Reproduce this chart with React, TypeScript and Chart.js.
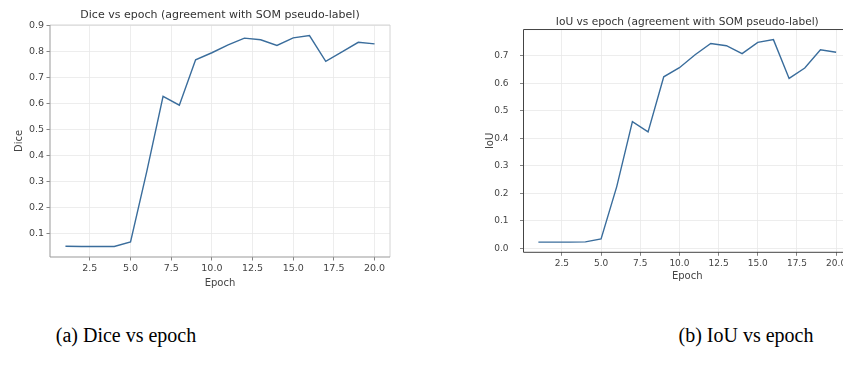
import React, { useEffect, useRef } from "react";
import { Chart, registerables } from "chart.js";

Chart.register(...registerables);

// ---- data ----
const epochs = [1, 2, 3, 4, 5, 6, 7, 8, 9, 10, 11, 12, 13, 14, 15, 16, 17, 18, 19, 20];
const diceValues = [0.053, 0.052, 0.052, 0.052, 0.069, 0.34, 0.628, 0.594, 0.768, 0.795, 0.825, 0.851, 0.845, 0.823, 0.852, 0.861, 0.762, 0.798, 0.835, 0.829];
const iouValues = [0.023, 0.023, 0.023, 0.024, 0.035, 0.225, 0.461, 0.424, 0.624, 0.657, 0.704, 0.745, 0.737, 0.708, 0.749, 0.759, 0.618, 0.656, 0.722, 0.713];
const diceYTicks = [0.1, 0.2, 0.3, 0.4, 0.5, 0.6, 0.7, 0.8, 0.9];
const iouYTicks = [0.0, 0.1, 0.2, 0.3, 0.4, 0.5, 0.6, 0.7];
const epochTicks = [2.5, 5.0, 7.5, 10.0, 12.5, 15.0, 17.5, 20.0];
const diceTitle = "Dice vs epoch (agreement with SOM pseudo-label)";
const iouTitle = "IoU vs epoch (agreement with SOM pseudo-label)";
const diceCaption = "(a) Dice vs epoch";
const iouCaption = "(b) IoU vs epoch";

const FONT = "'DejaVu Sans', sans-serif";

function margins(vals: number[]) {
  const lo = Math.min(...vals);
  const hi = Math.max(...vals);
  const m = (hi - lo) * 0.05;
  return [lo - m, hi + m];
}

const framePlugin = {
  id: "frame",
  afterDatasetsDraw(chart: any, _args: any, opts: any) {
    const { ctx, chartArea } = chart;
    const { left, top, right, bottom } = chartArea;
    ctx.save();
    ctx.lineWidth = opts.width || 1;
    ctx.strokeStyle = opts.faint || opts.color;
    ctx.beginPath();
    ctx.moveTo(left, top);
    ctx.lineTo(right, top);
    ctx.lineTo(right, bottom);
    ctx.stroke();
    ctx.strokeStyle = opts.color;
    ctx.beginPath();
    ctx.moveTo(left, top);
    ctx.lineTo(left, bottom);
    ctx.lineTo(right, bottom);
    ctx.stroke();
    ctx.restore();
  },
};

type P = {
  values: number[];
  yTicks: number[];
  title: string;
  yLabel: string;
  yWidth: number;
  xHeight: number;
  padRight: number;
  titlePad: { top: number; bottom: number };
  yTitlePad: number;
  xTitlePad: number;
  yTickPad: number;
  xTickPad: number;
  frameColor: string;
  frameFaint: string;
  tickFont: number;
  titleFont: number;
};

function makeConfig(p: P): any {
  const [ymin, ymax] = margins(p.values);
  const [xmin, xmax] = margins(epochs);
  return {
    type: "line",
    data: {
      datasets: [
        {
          data: epochs.map((e, i) => ({ x: e, y: p.values[i] })),
          borderColor: "#3a6d9c",
          borderWidth: 1.4,
          pointRadius: 0,
          tension: 0,
          fill: false,
        },
      ],
    },
    plugins: [framePlugin],
    options: {
      responsive: false,
      animation: false,
      devicePixelRatio: 1,
      layout: { padding: { left: 0, top: 0, bottom: 0, right: p.padRight } },
      plugins: {
        legend: { display: false },
        tooltip: { enabled: false },
        title: {
          display: true,
          text: p.title,
          fullSize: false,
          color: "#333",
          font: { family: FONT, size: p.titleFont, weight: "normal" },
          padding: p.titlePad,
        },
        frame: { color: p.frameColor, faint: p.frameFaint, width: 1 },
      },
      scales: {
        x: {
          type: "linear",
          min: xmin,
          max: xmax,
          afterBuildTicks: (s: any) => {
            s.ticks = epochTicks.map((v) => ({ value: v }));
          },
          afterFit: (s: any) => {
            s.height = p.xHeight;
            s.paddingLeft = 0;
            s.paddingRight = 0;
          },
          ticks: {
            callback: (v: any) => Number(v).toFixed(1),
            color: "#444",
            font: { family: FONT, size: p.tickFont },
            padding: p.xTickPad,
            maxRotation: 0,
            autoSkip: false,
          },
          grid: { color: "#e8e8e8", tickColor: "#666", tickLength: 3.5, lineWidth: 0.8 },
          border: { display: false },
          title: {
            display: true,
            text: "Epoch",
            color: "#444",
            font: { family: FONT, size: 10 },
            padding: { top: 0, bottom: p.xTitlePad },
          },
        },
        y: {
          type: "linear",
          min: ymin,
          max: ymax,
          afterBuildTicks: (s: any) => {
            s.ticks = p.yTicks.map((v) => ({ value: v }));
          },
          afterFit: (s: any) => {
            s.width = p.yWidth;
          },
          ticks: {
            callback: (v: any) => Number(v).toFixed(1),
            color: "#444",
            font: { family: FONT, size: p.tickFont },
            padding: p.yTickPad,
            autoSkip: false,
          },
          grid: { color: "#e8e8e8", tickColor: "#666", tickLength: 3.5, lineWidth: 0.8 },
          border: { display: false },
          title: {
            display: true,
            text: p.yLabel,
            color: "#444",
            font: { family: FONT, size: 10 },
            padding: { top: p.yTitlePad, bottom: 0 },
          },
        },
      },
    },
  };
}

function ChartCanvas(props: { cfg: any; left: number; width: number; height: number }) {
  const ref = useRef<HTMLCanvasElement | null>(null);
  useEffect(() => {
    if (!ref.current) return;
    const chart = new Chart(ref.current, props.cfg);
    return () => chart.destroy();
  }, []);
  return (
    <canvas
      ref={ref}
      width={props.width}
      height={props.height}
      style={{ position: "absolute", left: props.left, top: 0, width: props.width, height: props.height }}
    />
  );
}

export default function App() {
  const diceCfg = makeConfig({
    values: diceValues,
    yTicks: diceYTicks,
    title: diceTitle,
    yLabel: "Dice",
    yWidth: 50,
    xHeight: 43,
    padRight: 30,
    titlePad: { top: 9, bottom: 2.8 },
    yTitlePad: 13.8,
    xTitlePad: 10.3,
    yTickPad: 2.5,
    xTickPad: 2,
    frameColor: "#999",
    frameFaint: "#d4d4d4",
    tickFont: 9.5,
    titleFont: 11,
  });
  const iouCfg = makeConfig({
    values: iouValues,
    yTicks: iouYTicks,
    title: iouTitle,
    yLabel: "IoU",
    yWidth: 103.5,
    xHeight: 47.7,
    padRight: 0,
    titlePad: { top: 16, bottom: 0.8 },
    yTitlePad: 64.3,
    xTitlePad: 17.3,
    yTickPad: 11.5,
    xTickPad: 2,
    frameColor: "#444",
    frameFaint: "#444",
    tickFont: 9,
    titleFont: 10.6,
  });
  const cap: React.CSSProperties = {
    position: "absolute",
    top: 323,
    width: 300,
    textAlign: "center",
    fontFamily: "'Liberation Serif', 'Times New Roman', serif",
    fontSize: 20,
    lineHeight: "24px",
    color: "#000",
    whiteSpace: "nowrap",
  };
  return (
    <div
      style={{
        position: "fixed",
        left: 0,
        top: 0,
        width: 843,
        height: 365,
        overflow: "hidden",
        background: "#fff",
      }}
    >
      <ChartCanvas cfg={diceCfg} left={0} width={420} height={300} />
      <ChartCanvas cfg={iouCfg} left={420} width={431} height={300} />
      <div style={{ ...cap, left: 126 - 150 }}>{diceCaption}</div>
      <div style={{ ...cap, left: 746 - 150 }}>{iouCaption}</div>
    </div>
  );
}
